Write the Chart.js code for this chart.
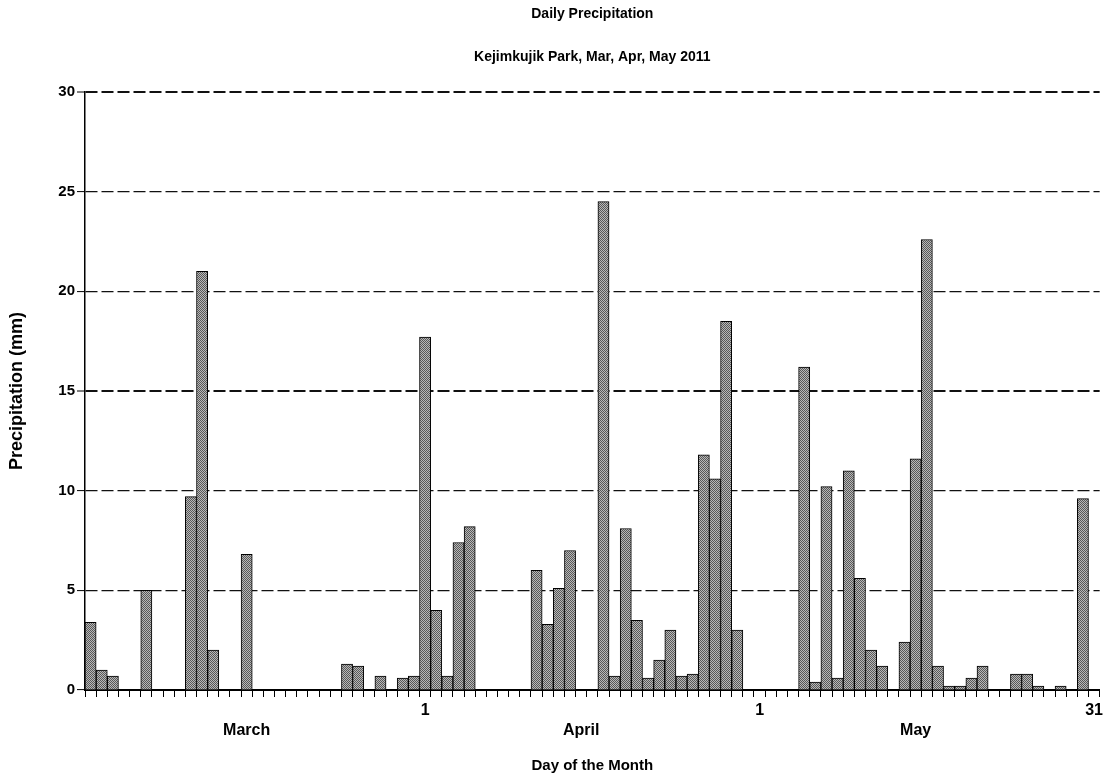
<!DOCTYPE html>
<html>
<head>
<meta charset="utf-8">
<title>Daily Precipitation</title>
<script src="https://cdn.jsdelivr.net/npm/chart.js@4.4.1/dist/chart.umd.min.js"></script>
<style>
  body { margin: 0; background: #fff; }
  #wrap { width: 1107px; height: 780px; }
</style>
</head>
<body>
<div id="wrap"><canvas id="precip" width="1107" height="780"></canvas></div>
<script>
'use strict';

// **** Data ****
let chartTitle = 'Daily Precipitation';
let chartSubtitle = 'Kejimkujik Park, Mar, Apr, May 2011';

let months = ['March', 'April', 'May'];
let monthLengths = [30, 30, 31];

// daily precipitation (mm), one value per day in order
let precipMarch = [3.4, 1.0, 0.7, 0, 0, 5.0, 0, 0, 0, 9.7, 21.0, 2.0, 0, 0, 6.8,
  0, 0, 0, 0, 0, 0, 0, 0, 1.3, 1.2, 0, 0.7, 0, 0.6, 0.7];
let precipApril = [17.7, 4.0, 0.7, 7.4, 8.2, 0, 0, 0, 0, 0, 6.0, 3.3, 5.1, 7.0, 0,
  0, 24.5, 0.7, 8.1, 3.5, 0.6, 1.5, 3.0, 0.7, 0.8, 11.8, 10.6, 18.5, 3.0, 0];
let precipMay = [0, 0, 0, 0, 16.2, 0.4, 10.2, 0.6, 11.0, 5.6, 2.0, 1.2, 0, 2.4, 11.6,
  22.6, 1.2, 0.2, 0.2, 0.6, 1.2, 0, 0, 0.8, 0.8, 0.2, 0, 0.2, 0, 9.6, 0];

// which days carry a day-number label, and which day carries the month name
let labelledDays = ['April 1', 'May 1', 'May 31'];
let monthLabelDay = 15;

let yTicks = [0, 5, 10, 15, 20, 25, 30];

// **** Build categories ****
let dayNames = [];
for (let m = 0; m < months.length; m++) {
  for (let d = 1; d <= monthLengths[m]; d++) {
    dayNames.push(months[m] + ' ' + d);
  }
}
let precipValues = precipMarch.concat(precipApril, precipMay);

// **** Helpers ****
const FONT = '"Liberation Sans", Arial, sans-serif';

function makeDither() {
  let c = document.createElement('canvas');
  c.width = 2;
  c.height = 2;
  let g = c.getContext('2d');
  g.fillStyle = '#b8b8b8';
  g.fillRect(0, 0, 2, 2);
  g.fillStyle = '#585858';
  g.fillRect(0, 0, 1, 1);
  g.fillRect(1, 1, 1, 1);
  return g.createPattern(c, 'repeat');
}

function xTickLabel(value, index) {
  let parts = dayNames[index].split(' ');
  let dayLine = labelledDays.includes(dayNames[index]) ? parts[1] : '';
  let monthLine = Number(parts[1]) === monthLabelDay ? parts[0] : '';
  return [dayLine, monthLine];
}

// titles centred over the plot area
let titlePlugin = {
  id: 'centredTitles',
  afterDraw(chart) {
    let ctx = chart.ctx;
    let area = chart.chartArea;
    let cx = (area.left + area.right) / 2;
    ctx.save();
    ctx.fillStyle = '#000';
    ctx.textAlign = 'center';
    ctx.textBaseline = 'middle';
    ctx.font = 'bold 14px ' + FONT;
    ctx.fillText(chartTitle, cx, 14);
    ctx.fillText(chartSubtitle, cx, 57);
    ctx.restore();
  }
};

// **** Chart ****
Chart.defaults.font.family = FONT;
Chart.defaults.font.weight = 'bold';
Chart.defaults.color = '#000';

let chartObj = {
  type: 'bar',
  data: {
    labels: dayNames,
    datasets: [{
      label: 'Precipitation (mm)',
      data: precipValues,
      backgroundColor: makeDither(),
      borderColor: '#000',
      borderWidth: 1,
      barPercentage: 1,
      categoryPercentage: 1
    }]
  },
  options: {
    responsive: false,
    animation: false,
    devicePixelRatio: 1,
    layout: { padding: { top: 92, right: 5, bottom: 0, left: 0 } },
    plugins: {
      legend: { display: false },
      tooltip: { enabled: false }
    },
    scales: {
      x: {
        afterFit: (scale) => { scale.height = 90; },
        grid: {
          drawOnChartArea: false,
          drawTicks: true,
          tickLength: 7,
          tickColor: '#000',
          tickWidth: 1
        },
        border: { display: true, color: '#000', width: 2 },
        ticks: {
          autoSkip: false,
          maxRotation: 0,
          minRotation: 0,
          padding: 4,
          font: { size: 16, weight: 'bold', lineHeight: '20px' },
          callback: xTickLabel
        },
        title: {
          display: true,
          text: 'Day of the Month',
          font: { size: 15, weight: 'bold' },
          padding: { top: 0, bottom: 5 }
        }
      },
      y: {
        min: yTicks[0],
        max: yTicks[yTicks.length - 1],
        afterFit: (scale) => { scale.width = 85; },
        afterBuildTicks: (scale) => { scale.ticks = yTicks.map((v) => ({ value: v })); },
        grid: {
          color: (ctx) => (ctx.tick && ctx.tick.value === 0 ? 'rgba(0,0,0,0)' : '#111'),
          lineWidth: (ctx) => (ctx.tick && (ctx.tick.value === 15 || ctx.tick.value === 30) ? 2 : 1.2),
          drawTicks: true,
          tickLength: 8,
          tickColor: '#000',
          tickWidth: 1,
          tickBorderDash: []
        },
        border: { display: true, color: '#000', width: 1.5, dash: [12, 4] },
        ticks: {
          padding: 2,
          font: { size: 15, weight: 'bold' }
        },
        title: {
          display: true,
          text: 'Precipitation (mm)',
          font: { size: 18, weight: 'bold' },
          padding: { top: 6, bottom: 0 }
        }
      }
    }
  },
  plugins: [titlePlugin]
};

new Chart(document.getElementById('precip'), chartObj);
</script>
</body>
</html>
